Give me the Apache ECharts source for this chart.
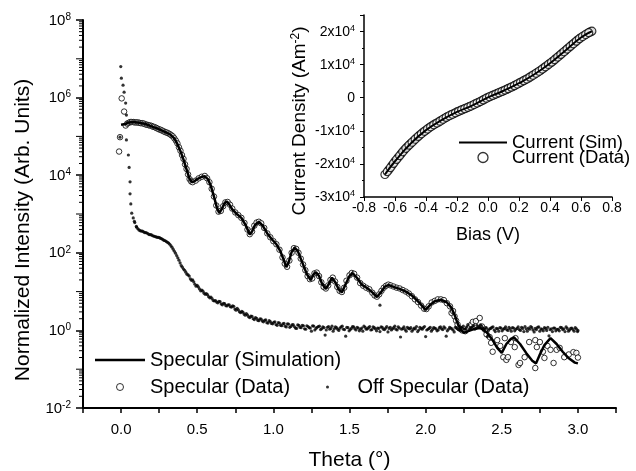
<!DOCTYPE html>
<html><head><meta charset="utf-8">
<script src="https://cdn.jsdelivr.net/npm/echarts@6/dist/echarts.min.js"></script>
<style>html,body{margin:0;padding:0;background:#fff}#c{width:636px;height:471px}</style>
</head><body><div id="c"></div>
<script>
const FONT = '"Liberation Sans", Arial, Helvetica, sans-serif';

// ---- main panel: theta (deg) vs log10(intensity) ----
const specSimExp = [
[0.0,5.30],[0.03,5.32],[0.05,5.36],[0.08,5.37],[0.12,5.35],[0.16,5.32],[0.20,5.26],[0.24,5.20],[0.28,5.13],[0.32,5.06],[0.35,4.95],[0.37,4.80],[0.39,4.62],[0.41,4.40],[0.43,4.15],[0.45,3.90],[0.465,3.82],[0.48,3.84],[0.50,3.90],[0.53,3.96],[0.55,3.97],[0.57,3.90],[0.59,3.72],[0.61,3.45],[0.63,3.15],[0.645,3.03],[0.66,3.12],[0.68,3.28],[0.695,3.32],[0.71,3.25],[0.73,3.12],[0.76,3.00],[0.79,2.90],[0.82,2.70],[0.845,2.47],[0.86,2.55],[0.88,2.72],[0.905,2.80],[0.93,2.70],[0.96,2.50],[0.99,2.35],[1.02,2.22],[1.045,2.05],[1.07,1.80],[1.085,1.63],[1.10,1.75],[1.12,2.02],[1.14,2.13],[1.16,2.05],[1.18,1.85],[1.20,1.65],[1.22,1.45],[1.245,1.30],[1.265,1.45],[1.28,1.50],[1.30,1.40],[1.32,1.20],[1.345,1.07],[1.365,1.20],[1.385,1.36],[1.41,1.22],[1.43,1.05],[1.45,0.98],[1.47,1.15],[1.50,1.40],[1.52,1.48],[1.55,1.35],[1.58,1.18],[1.62,1.08],[1.65,0.98],[1.68,0.86],[1.71,1.00],[1.73,1.12],[1.755,1.17],[1.79,1.12],[1.83,1.07],[1.87,1.00],[1.91,0.90],[1.95,0.75],[1.98,0.62],[2.00,0.53],[2.03,0.66],[2.06,0.75],[2.10,0.79],[2.14,0.72],[2.17,0.58],[2.19,0.40],[2.21,0.18],[2.23,0.02],[2.25,-0.06],[2.28,-0.02],[2.32,0.04],[2.36,0.06],[2.40,-0.05],[2.44,-0.25],[2.47,-0.45],[2.50,-0.58],[2.53,-0.35],[2.56,-0.22],[2.58,-0.18],[2.62,-0.35],[2.66,-0.58],[2.70,-0.78],[2.725,-0.85],[2.75,-0.62],[2.78,-0.38],[2.82,-0.20],[2.86,-0.35],[2.90,-0.55],[2.94,-0.72],[2.98,-0.83],[3.00,-0.85]
];

const specDataExp = [
[-0.013,4.61],[-0.007,4.98],[0.004,5.98],[0.02,5.64],
[0.03,5.28],[0.04,5.33],[0.05,5.35],[0.06,5.37],[0.07,5.37],[0.08,5.37],[0.09,5.36],[0.10,5.36],[0.11,5.36],[0.12,5.35],[0.13,5.34],[0.14,5.34],[0.15,5.33],[0.16,5.31],[0.17,5.30],[0.18,5.29],[0.19,5.28],[0.20,5.27],[0.21,5.25],[0.22,5.24],[0.23,5.22],[0.24,5.20],[0.25,5.18],[0.26,5.17],[0.27,5.15],[0.28,5.13],[0.29,5.11],[0.30,5.10],[0.31,5.08],[0.32,5.06],[0.33,5.03],[0.34,5.00],[0.35,4.95],[0.36,4.89],[0.37,4.82],[0.38,4.72],[0.39,4.63],[0.40,4.52],[0.41,4.42],[0.42,4.28],[0.43,4.16],[0.44,4.02],[0.45,3.90],[0.46,3.84],[0.47,3.82],[0.49,3.86],[0.51,3.92],[0.53,3.96],[0.55,3.98],[0.565,3.92],[0.58,3.82],[0.595,3.65],[0.61,3.45],[0.625,3.22],[0.64,3.06],[0.655,3.08],[0.67,3.20],[0.685,3.30],[0.70,3.31],[0.715,3.24],[0.73,3.14],[0.75,3.04],[0.77,2.97],[0.79,2.90],[0.81,2.77],[0.83,2.60],[0.845,2.48],[0.86,2.55],[0.875,2.70],[0.89,2.78],[0.905,2.80],[0.92,2.76],[0.94,2.64],[0.96,2.50],[0.98,2.40],[1.00,2.30],[1.02,2.22],[1.04,2.08],[1.06,1.88],[1.075,1.72],[1.09,1.64],[1.105,1.80],[1.12,2.00],[1.135,2.12],[1.15,2.10],[1.165,2.00],[1.18,1.85],[1.195,1.70],[1.21,1.55],[1.225,1.40],[1.24,1.32],[1.255,1.34],[1.27,1.47],[1.285,1.49],[1.30,1.40],[1.315,1.24],[1.33,1.12],[1.345,1.08],[1.36,1.16],[1.375,1.30],[1.39,1.36],[1.405,1.26],[1.42,1.12],[1.435,1.02],[1.45,0.99],[1.465,1.10],[1.48,1.28],[1.50,1.42],[1.515,1.48],[1.53,1.46],[1.55,1.36],[1.57,1.22],[1.59,1.15],[1.61,1.10],[1.63,1.06],[1.65,0.97],[1.665,0.90],[1.68,0.87],[1.695,0.93],[1.71,1.02],[1.725,1.10],[1.74,1.15],[1.755,1.18],[1.77,1.16],[1.79,1.13],[1.81,1.10],[1.83,1.08],[1.85,1.04],[1.87,1.00],[1.89,0.95],[1.91,0.88],[1.93,0.80],[1.95,0.73],[1.97,0.64],[1.99,0.56],[2.005,0.55],[2.02,0.62],[2.04,0.72],[2.06,0.76],[2.08,0.80],[2.10,0.80],[2.12,0.78],[2.14,0.70],[2.16,0.62],[2.17,0.45],[2.18,0.50],[2.19,0.36],[2.20,0.25],[2.21,0.15],[2.22,0.06],[2.24,0.00],[2.26,-0.02],[2.28,0.05],[2.30,0.15],[2.31,0.22],[2.33,0.24],[2.355,0.32],[2.37,0.10],[2.39,0.02],[2.40,-0.10],[2.42,-0.17],[2.43,-0.32],[2.44,-0.55],[2.47,-0.25],[2.49,-0.40],[2.51,-0.69],[2.52,-0.20],[2.53,-0.76],[2.54,-0.69],[2.56,-0.30],[2.585,-0.43],[2.59,-0.20],[2.61,-0.89],[2.62,-0.84],[2.65,-0.69],[2.68,-0.30],[2.72,-0.25],[2.72,-0.97],[2.73,-0.43],[2.75,-0.30],[2.77,-0.55],[2.78,-0.71],[2.80,-0.40],[2.82,-0.50],[2.84,-0.84],[2.86,-0.50],[2.88,-0.45],[2.91,-0.69],[2.94,-0.62],[2.97,-0.56],[2.99,-0.58],[3.00,-0.70]
];

const offSpecExp = [
[-0.002,6.80],[0.002,6.50],[0.013,6.32],[0.02,6.14],[0.03,5.86],[0.035,5.55],[-0.007,4.98],[0.035,4.91],[0.048,4.52],[0.053,4.20],[0.059,3.83],[0.059,3.52],[0.064,3.26],[0.07,3.02],
[0.080,2.90],[0.090,2.78],[0.100,2.68],[0.110,2.62],[0.125,2.57],[0.140,2.56],[0.155,2.52],[0.170,2.51],[0.185,2.47],[0.200,2.46],[0.215,2.43],[0.230,2.41],[0.245,2.40],[0.260,2.37],[0.275,2.34],[0.290,2.31],[0.305,2.27],[0.320,2.22],[0.335,2.14],[0.350,2.04],[0.365,1.93],[0.380,1.81],[0.395,1.67],[0.410,1.58],[0.425,1.50],[0.440,1.43],[0.455,1.33],[0.470,1.30],[0.485,1.19],[0.500,1.16],[0.515,1.07],[0.530,1.04],[0.545,0.96],[0.560,0.95],[0.575,0.87],[0.590,0.86],[0.605,0.77],[0.620,0.77],[0.635,0.71],[0.650,0.74],[0.665,0.66],[0.680,0.69],[0.695,0.63],[0.710,0.66],[0.725,0.60],[0.740,0.62],[0.755,0.52],[0.770,0.53],[0.785,0.46],[0.800,0.47],[0.815,0.39],[0.830,0.40],[0.845,0.33],[0.860,0.36],[0.875,0.28],[0.890,0.31],[0.905,0.25],[0.920,0.29],[0.935,0.22],[0.950,0.27],[0.965,0.19],[0.980,0.23],[0.995,0.17],[1.010,0.22],[1.025,0.13],[1.040,0.19],[1.055,0.12],[1.070,0.18],[1.085,0.09],[1.100,0.16],[1.115,0.10],[1.130,0.15],[1.145,0.06],[1.160,0.14],[1.175,0.08],[1.190,0.13],[1.205,0.04],[1.220,0.12],[1.235,0.07],[1.250,-0.02],[1.265,0.11],[1.280,0.05],[1.295,0.10],[1.310,0.02],[1.325,0.09],[1.340,-0.12],[1.355,0.08],[1.370,0.03],[1.385,0.11],[1.400,0.04],[1.415,0.07],[1.430,0.00],[1.445,0.09],[1.460,0.03],[1.475,-0.15],[1.490,0.07],[1.505,0.02],[1.520,0.10],[1.535,0.04],[1.550,0.08],[1.565,-0.01],[1.580,0.06],[1.595,0.11],[1.610,0.03],[1.625,0.07],[1.640,0.01],[1.655,0.09],[1.670,0.04],[1.685,0.06],[1.700,-0.03],[1.700,0.65],[1.715,0.08],[1.730,0.02],[1.745,0.10],[1.760,0.05],[1.775,0.01],[1.790,0.07],[1.805,0.03],[1.820,0.09],[1.835,-0.17],[1.850,0.05],[1.865,0.02],[1.880,0.08],[1.895,0.04],[1.910,-0.02],[1.925,0.06],[1.940,0.10],[1.955,0.01],[1.970,0.05],[1.985,0.07],[2.000,-0.16],[2.015,0.03],[2.030,0.08],[2.045,0.02],[2.060,0.06],[2.075,-0.01],[2.090,0.07],[2.105,0.04],[2.120,0.09],[2.135,-0.15],[2.150,0.03],[2.165,0.06],[2.180,0.01],[2.195,0.08],[2.210,0.04],[2.225,0.00],[2.240,0.06],[2.255,0.03],[2.270,0.09],[2.285,0.02],[2.300,0.07],[2.315,0.12],[2.330,0.05],[2.345,0.10],[2.360,0.14],[2.375,0.06],[2.390,0.03],[2.405,-0.16],[2.420,0.04],[2.435,0.08],[2.450,0.01],[2.465,0.05],[2.480,-0.02],[2.495,0.06],[2.510,0.03],[2.525,0.09],[2.540,0.00],[2.555,0.04],[2.570,0.07],[2.585,-0.01],[2.600,0.05],[2.615,0.02],[2.630,0.08],[2.645,-0.03],[2.660,0.04],[2.675,0.06],[2.690,0.10],[2.705,0.01],[2.720,0.05],[2.735,0.08],[2.750,-0.02],[2.765,0.03],[2.780,0.07],[2.795,0.00],[2.810,-0.14],[2.825,0.04],[2.840,0.06],[2.855,-0.01],[2.870,0.03],[2.885,0.08],[2.900,0.02],[2.915,-0.03],[2.930,0.05],[2.945,0.01],[2.960,0.06],[2.975,-0.02],[2.990,0.04],[3.000,0.00]
];

const offSpecExtraExp = [
[0.0875,2.81],[0.1025,2.66],[0.1175,2.59],[0.1325,2.56],[0.1475,2.54],[0.1625,2.52],[0.1775,2.49],[0.1925,2.47],[0.2075,2.44],[0.2225,2.42],[0.2375,2.40],[0.2525,2.39],[0.2675,2.36],[0.2825,2.32],[0.2975,2.29],[0.3125,2.25],[0.3275,2.18],[0.3425,2.09],[0.3575,1.99],[0.3725,1.87],[0.3875,1.74],[0.4025,1.63],[0.4175,1.55],[0.4325,1.45],[0.4475,1.40],[0.4625,1.29],[0.4775,1.25],[0.4925,1.14],[0.5075,1.12],[0.5225,1.02],[0.5375,1.01],[0.5525,0.93],[0.5675,0.92],[0.5825,0.84],[0.5975,0.82],[0.6125,0.76],[0.6275,0.73],[0.6425,0.75],[0.6575,0.68],[0.6725,0.70],[0.6875,0.64],[0.7025,0.66],[0.7175,0.61],[0.7325,0.63],[0.7475,0.55],[0.7625,0.57],[0.7775,0.48],[0.7925,0.49],[0.8075,0.42],[0.8225,0.43],[0.8375,0.35],[0.8525,0.37],[0.8675,0.30],[0.8825,0.33],[0.8975,0.26],[0.9125,0.30],[0.9275,0.24],[0.9425,0.26],[0.9575,0.20],[0.9725,0.25],[0.9875,0.18],[1.0025,0.21],[1.0175,0.15],[1.0325,0.20],[1.0475,0.13],[1.0625,0.17],[1.0775,0.11],[1.0925,0.17],[1.1075,0.08],[1.1225,0.14],[1.1375,0.10],[1.1525,0.05],[1.1675,0.13],[1.1825,0.07],[1.1975,0.12],[1.2125,0.03],[1.2275,0.10],[1.2425,0.06],[1.2575,0.12],[1.2725,0.01],[1.2875,0.08],[1.3025,0.11],[1.3175,0.04],[1.3325,0.07],[1.3475,0.01],[1.3625,0.10],[1.3775,0.05],[1.3925,-0.02],[1.4075,0.09],[1.4225,0.03],[1.4375,0.06],[1.4525,0.11],[1.4675,0.02],[1.4825,0.08],[1.4975,-0.01],[1.5125,0.05],[1.5275,0.09],[1.5425,0.01],[1.5575,0.06],[1.5725,0.03],[1.5875,-0.02],[1.6025,0.08],[1.6175,0.04],[1.6325,0.10],[1.6475,0.02],[1.6625,0.07],[1.6775,-0.01],[1.6925,0.05],[1.7075,0.09],[1.7225,0.03],[1.7375,0.06],[1.7525,-0.04],[1.7675,0.08],[1.7825,0.04],[1.7975,0.11],[1.8125,0.01],[1.8275,0.06],[1.8425,0.03],[1.8575,0.09],[1.8725,-0.02],[1.8875,0.05],[1.9025,0.07],[1.9175,0.02],[1.9325,0.04],[1.9475,-0.03],[1.9625,0.08],[1.9775,0.03],[1.9925,0.10],[2.0075,0.01],[2.0225,0.05],[2.0375,-0.02],[2.0525,0.07],[2.0675,0.04],[2.0825,0.01],[2.0975,0.09],[2.1125,0.02],[2.1275,0.06],[2.1425,-0.01],[2.1575,0.08],[2.1725,0.04],[2.1875,-0.04],[2.2025,0.06],[2.2175,0.02],[2.2325,0.08],[2.2475,0.11],[2.2625,0.04],[2.2775,0.15],[2.2925,0.06],[2.3075,0.10],[2.3225,0.03],[2.3375,0.13],[2.3525,0.08],[2.3675,0.11],[2.3825,0.04],[2.3975,0.07],[2.4125,0.00],[2.4275,0.05],[2.4425,0.09],[2.4575,-0.03],[2.4725,0.04],[2.4875,0.07],[2.5025,-0.01],[2.5175,0.05],[2.5325,0.02],[2.5475,0.08],[2.5625,-0.02],[2.5775,0.06],[2.5925,0.03],[2.6075,0.09],[2.6225,0.00],[2.6375,0.05],[2.6525,0.10],[2.6675,-0.02],[2.6825,0.03],[2.6975,0.07],[2.7125,-0.04],[2.7275,0.02],[2.7425,0.09],[2.7575,0.04],[2.7725,-0.01],[2.7875,0.05],[2.8025,0.08],[2.8175,0.02],[2.8325,-0.03],[2.8475,0.06],[2.8625,0.03],[2.8775,-0.01],[2.8925,0.07],[2.9075,0.04],[2.9225,0.09],[2.9375,-0.02],[2.9525,0.05],[2.9675,0.02],[2.9825,0.07],[2.9975,-0.03]
];

// ---- inset: bias (V) vs current density (A m^-2) ----
const ivSim = [
[-0.665,-23200],[-0.60,-19200],[-0.50,-13900],[-0.40,-9800],[-0.30,-6800],[-0.20,-4300],[-0.10,-2300],[0.00,100],[0.10,2100],[0.20,4400],[0.30,7100],[0.40,10400],[0.50,14300],[0.60,18200],[0.67,20100]
];
const ivData = [
[-0.665,-23200],[-0.64,-21800],[-0.62,-20500],[-0.60,-19200],[-0.58,-18100],[-0.56,-16900],[-0.54,-15800],[-0.52,-14800],[-0.50,-13900],[-0.48,-13000],[-0.46,-12100],[-0.44,-11300],[-0.42,-10500],[-0.40,-9800],[-0.38,-9100],[-0.36,-8500],[-0.34,-7900],[-0.32,-7400],[-0.30,-6800],[-0.28,-6200],[-0.26,-5700],[-0.24,-5200],[-0.22,-4800],[-0.20,-4300],[-0.18,-3900],[-0.16,-3500],[-0.14,-3100],[-0.12,-2700],[-0.10,-2300],[-0.08,-1800],[-0.06,-1400],[-0.04,-900],[-0.02,-400],[0.00,100],[0.02,500],[0.04,900],[0.06,1300],[0.08,1700],[0.10,2100],[0.12,2500],[0.14,3000],[0.16,3400],[0.18,3900],[0.20,4400],[0.22,4900],[0.24,5400],[0.26,5900],[0.28,6500],[0.30,7100],[0.32,7700],[0.34,8300],[0.36,9000],[0.38,9700],[0.40,10400],[0.42,11100],[0.44,11900],[0.46,12700],[0.48,13500],[0.50,14300],[0.52,15100],[0.54,15900],[0.56,16700],[0.58,17500],[0.60,18200],[0.62,18800],[0.64,19400],[0.66,19900],[0.67,20100]
];
const ivDataExtra = [
[-0.65,-22350],[-0.63,-21150],[-0.61,-19850],[-0.59,-18650],[-0.57,-17500],[-0.55,-16350],[-0.53,-15300],[-0.51,-14350],[-0.49,-13450],[-0.47,-12550],[-0.45,-11700],[-0.43,-10900],[-0.41,-10150],[-0.39,-9450],[-0.37,-8800],[-0.35,-8200],[-0.33,-7650],[-0.31,-7100],[-0.29,-6500],[-0.27,-5950],[-0.25,-5450],[-0.23,-5000],[-0.21,-4550],[-0.19,-4100],[-0.17,-3700],[-0.15,-3300],[-0.13,-2900],[-0.11,-2500],[-0.09,-2050],[-0.07,-1600],[-0.05,-1150],[-0.03,-650],[-0.01,-150],[0.01,300],[0.03,700],[0.05,1100],[0.07,1500],[0.09,1900],[0.11,2300],[0.13,2750],[0.15,3200],[0.17,3650],[0.19,4150],[0.21,4650],[0.23,5150],[0.25,5650],[0.27,6200],[0.29,6800],[0.31,7400],[0.33,8000],[0.35,8650],[0.37,9350],[0.39,10050],[0.41,10750],[0.43,11500],[0.45,12300],[0.47,13100],[0.49,13900],[0.51,14700],[0.53,15500],[0.55,16300],[0.57,17100],[0.59,17850],[0.61,18500],[0.63,19100],[0.65,19650]
];

const toLin = arr => arr.map(p => [p[0], Math.pow(10, p[1])]);

// decoration: odd-decade and 2..9 minor ticks of the log axis
const logTicks = [];
for (let k = -2; k < 8; k++) {
  for (let m = 2; m <= 9; m++) logTicks.push([-0.25, m * Math.pow(10, k), 4]);
  if (k % 2 !== 0) logTicks.push([-0.25, Math.pow(10, k), 7]);
}

const black = '#000';
const LINE_ICON = 'path://M0,0H100V5H0Z';
const chart = echarts.init(document.getElementById('c'), null, {renderer: 'canvas'});
chart.setOption({
  animation: false,
  backgroundColor: '#fff',
  textStyle: {fontFamily: FONT, color: black},
  grid: [
    {left: 83, top: 20, width: 533, height: 388, containLabel: false, outerBoundsMode: 'none'},
    {left: 364, top: 15, width: 248, height: 182, containLabel: false, outerBoundsMode: 'none'}
  ],
  xAxis: [
    {
      type: 'value', gridIndex: 0, min: -0.25, max: 3.25, interval: 0.25,
      axisLine: {onZero: false, lineStyle: {color: black, width: 2}},
      axisTick: {length: 5, lineStyle: {color: black, width: 1.5}},
      splitLine: {show: false},
      axisLabel: {
        margin: 14, fontSize: 15, color: black, fontFamily: FONT,
        formatter: v => (Math.abs(v * 2 - Math.round(v * 2)) < 1e-6 ? v.toFixed(1) : '')
      },
      name: 'Theta (°)', nameLocation: 'middle', nameGap: 42,
      nameTextStyle: {fontSize: 21, color: black, fontFamily: FONT}
    },
    {
      type: 'value', gridIndex: 1, min: -0.8, max: 0.8, interval: 0.2,
      axisLine: {onZero: false, lineStyle: {color: black, width: 1.5}},
      axisTick: {length: 4, lineStyle: {color: black, width: 1}},
      splitLine: {show: false},
      axisLabel: {margin: 4, fontSize: 14, color: black, fontFamily: FONT, formatter: v => v.toFixed(1)},
      name: 'Bias (V)', nameLocation: 'middle', nameGap: 29,
      nameTextStyle: {fontSize: 18, color: black, fontFamily: FONT}
    }
  ],
  yAxis: [
    {
      type: 'log', gridIndex: 0, logBase: 100, min: 0.01, max: 1e8,
      axisLine: {onZero: false, lineStyle: {color: black, width: 2}},
      axisTick: {length: 7, lineStyle: {color: black, width: 1.5}},
      splitLine: {show: false},
      axisLabel: {
        margin: 12, color: black, fontFamily: FONT, interval: 0,
        formatter: v => '{b|10}{s|' + Math.round(Math.log10(v)) + '}',
        rich: {
          b: {fontSize: 15, fontFamily: FONT, color: black, verticalAlign: 'bottom', lineHeight: 16},
          s: {fontSize: 10, fontFamily: FONT, color: black, verticalAlign: 'top', lineHeight: 10}
        }
      },
      name: 'Normalized Intensity (Arb. Units)', nameLocation: 'middle', nameGap: 49,
      nameTextStyle: {fontSize: 21, color: black, fontFamily: FONT, padding: [0, 32, 0, 0]}
    },
    {
      type: 'value', gridIndex: 1, min: -30000, max: 25000, interval: 10000,
      axisLine: {onZero: false, lineStyle: {color: black, width: 1.5}},
      axisTick: {length: 4, lineStyle: {color: black, width: 1}},
      minorTick: {show: true, splitNumber: 2, length: 2, lineStyle: {color: black}},
      splitLine: {show: false},
      axisLabel: {
        margin: 9, color: black, fontFamily: FONT, showMaxLabel: true,
        formatter: v => {
          if (Math.abs(v % 10000) > 1) return '';
          if (v === 0) return '{b|0}';
          return '{b|' + (v / 10000) + 'x10}{s|4}';
        },
        rich: {
          b: {fontSize: 14, fontFamily: FONT, color: black, verticalAlign: 'bottom', lineHeight: 15},
          s: {fontSize: 9, fontFamily: FONT, color: black, verticalAlign: 'top', lineHeight: 9}
        }
      },
      name: 'Current Density (Am{s|-2})', nameLocation: 'middle', nameGap: 55,
      nameTextStyle: {
        fontSize: 19, color: black, fontFamily: FONT, padding: [0, 30, 0, 0],
        rich: {s: {fontSize: 12, fontFamily: FONT, color: black, verticalAlign: 'top', lineHeight: 10}}
      }
    }
  ],
  legend: [
    {
      orient: 'vertical', left: 90, top: 345, itemWidth: 50, itemHeight: 7, itemGap: 7,
      textStyle: {fontSize: 20, lineHeight: 20, color: black, fontFamily: FONT},
      data: [
        {name: 'Specular (Simulation)', icon: LINE_ICON, itemStyle: {color: black}},
        {name: 'Specular (Data)', icon: 'circle', itemStyle: {color: '#fff', borderColor: black, borderWidth: 1}}
      ]
    },
    {
      orient: 'vertical', left: 321, top: 372, itemWidth: 50, itemHeight: 3,
      textStyle: {fontSize: 20, lineHeight: 20, color: black, fontFamily: FONT},
      data: [{name: 'Off Specular (Data)', icon: 'circle', itemStyle: {color: black, borderWidth: 0}}]
    },
    {
      orient: 'vertical', left: 454, top: 128, itemWidth: 48, itemHeight: 10, itemGap: -4,
      textStyle: {fontSize: 18.5, lineHeight: 15, color: black, fontFamily: FONT},
      data: [
        {name: 'Current (Sim)', icon: 'path://M0,0H100V4H0Z', itemStyle: {color: black}},
        {name: 'Current (Data)', icon: 'circle', itemStyle: {color: '#fff', borderColor: black, borderWidth: 1.3}}
      ]
    }
  ],
  series: [
    {
      name: 'Specular (Data)', type: 'scatter', xAxisIndex: 0, yAxisIndex: 0,
      data: toLin(specDataExp), symbol: 'circle', symbolSize: 5.5, z: 2,
      itemStyle: {color: '#fff', borderColor: black, borderWidth: 1}
    },
    {
      name: 'Off Specular (Data)', type: 'scatter', xAxisIndex: 0, yAxisIndex: 0,
      data: toLin(offSpecExp.concat(offSpecExtraExp)), symbol: 'circle', symbolSize: 3.2, z: 3,
      itemStyle: {color: black}
    },
    {
      name: 'Specular (Simulation)', type: 'line', xAxisIndex: 0, yAxisIndex: 0,
      data: toLin(specSimExp), showSymbol: false, symbol: 'none', z: 4,
      lineStyle: {color: black, width: 2.5}, itemStyle: {color: black}
    },
    {
      type: 'custom', xAxisIndex: 0, yAxisIndex: 0, data: logTicks, silent: true, z: 5,
      encode: {x: 0, y: 1},
      renderItem: (params, api) => {
        const p = api.coord([api.value(0), api.value(1)]);
        const len = api.value(2);
        return {type: 'line', shape: {x1: p[0] - len, y1: p[1], x2: p[0], y2: p[1]},
                style: {stroke: black, lineWidth: 1}};
      }
    },
    {
      name: 'Current (Data)', type: 'scatter', xAxisIndex: 1, yAxisIndex: 1,
      data: ivData.concat(ivDataExtra), symbol: 'circle', symbolSize: 8, z: 2,
      itemStyle: {color: '#fff', borderColor: black, borderWidth: 1.2}
    },
    {
      name: 'Current (Sim)', type: 'line', xAxisIndex: 1, yAxisIndex: 1,
      data: ivSim, showSymbol: false, symbol: 'none', smooth: true, z: 4,
      lineStyle: {color: black, width: 2}, itemStyle: {color: black}
    }
  ]
});
</script></body></html>
